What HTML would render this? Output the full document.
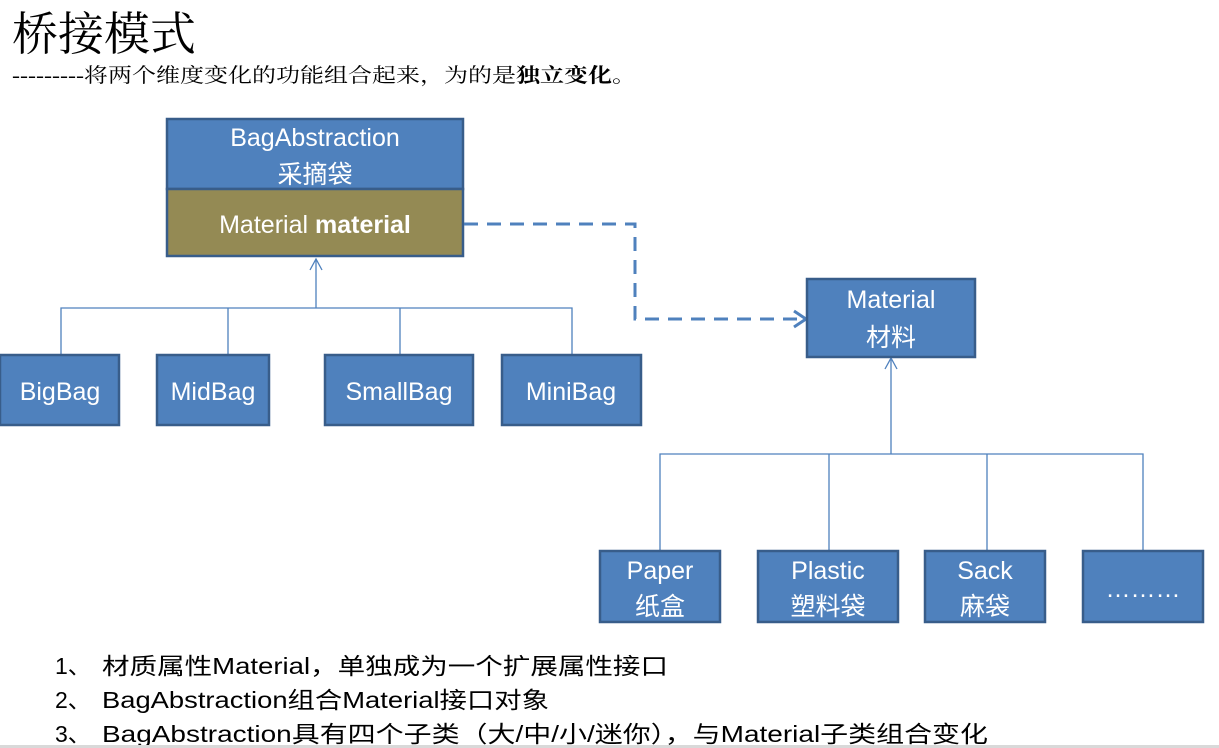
<!DOCTYPE html>
<html><head><meta charset="utf-8"><style>
html,body{margin:0;padding:0;background:#fff;width:1219px;height:748px;overflow:hidden}
svg{display:block}
.b{fill:#4f81bd;stroke:#385d8a;stroke-width:2.5}
.t{fill:#fff;font-family:"Liberation Sans","Noto Sans CJK SC",sans-serif;font-size:25px;text-anchor:middle}
.k{fill:#000;font-family:"Liberation Sans","Noto Sans CJK SC",sans-serif;font-size:23px}
</style></head><body>
<svg width="1219" height="748" viewBox="0 0 1219 748">
<text x="12" y="50" font-family="'Liberation Serif','Noto Serif CJK SC',serif" font-size="46" fill="#000">桥接模式</text>
<text x="12" y="82" font-family="'Liberation Serif','Noto Serif CJK SC',serif" font-size="20" fill="#000" textLength="624" lengthAdjust="spacingAndGlyphs">---------将两个维度变化的功能组合起来，为的是<tspan font-weight="bold">独立变化</tspan>。</text>

<!-- BagAbstraction -->
<rect x="167" y="119" width="296" height="70" class="b"/>
<rect x="167" y="189" width="296" height="67" fill="#948a54" stroke="#385d8a" stroke-width="2.5"/>
<text x="315" y="146" class="t">BagAbstraction</text>
<text x="315" y="183" class="t">采摘袋</text>
<text x="315" y="233" class="t">Material <tspan font-weight="bold">material</tspan></text>

<!-- left tree -->
<g stroke="#4f81bd" stroke-width="1.3" fill="none">
<path d="M61 355V308H572V355M228 308V355M400 308V355M316 308V259"/>
<path d="M310 270L316 259L322 270"/>
<path d="M660 551V454H1143V551M829 454V551M987 454V551M891 454V358"/>
<path d="M885 369L891 358L897 369"/>
</g>
<rect x="0" y="355" width="119" height="70" class="b"/>
<rect x="157" y="355" width="112" height="70" class="b"/>
<rect x="325" y="355" width="148" height="70" class="b"/>
<rect x="502" y="355" width="139" height="70" class="b"/>
<text x="60" y="400" class="t">BigBag</text>
<text x="213" y="400" class="t">MidBag</text>
<text x="399" y="400" class="t">SmallBag</text>
<text x="571" y="400" class="t">MiniBag</text>

<!-- dashed -->
<path d="M464 224H635V319H805" stroke="#4f81bd" stroke-width="3" fill="none" stroke-dasharray="14,9"/>
<path d="M794 311L806 319L794 327" stroke="#4f81bd" stroke-width="3" fill="none"/>

<rect x="807" y="279" width="168" height="78" class="b"/>
<text x="891" y="308" class="t">Material</text>
<text x="891" y="346" class="t">材料</text>

<rect x="600" y="551" width="120" height="71" class="b"/>
<rect x="758" y="551" width="140" height="71" class="b"/>
<rect x="925" y="551" width="120" height="71" class="b"/>
<rect x="1083" y="551" width="120" height="71" class="b"/>
<text x="660" y="579" class="t">Paper</text>
<text x="660" y="615" class="t">纸盒</text>
<text x="828" y="579" class="t">Plastic</text>
<text x="828" y="615" class="t">塑料袋</text>
<text x="985" y="579" class="t">Sack</text>
<text x="985" y="615" class="t">麻袋</text>
<text x="1143" y="597" class="t">………</text>

<text x="55" y="674" class="k">1、</text>
<text x="102" y="674" class="k" textLength="566" lengthAdjust="spacingAndGlyphs">材质属性Material，单独成为一个扩展属性接口</text>
<text x="55" y="708" class="k">2、</text>
<text x="102" y="708" class="k" textLength="447" lengthAdjust="spacingAndGlyphs">BagAbstraction组合Material接口对象</text>
<text x="55" y="742" class="k">3、</text>
<text x="102" y="742" class="k" textLength="886" lengthAdjust="spacingAndGlyphs">BagAbstraction具有四个子类（大/中/小/迷你），与Material子类组合变化</text>
<rect x="0" y="745" width="1219" height="3" fill="#d9d9d9"/>
</svg>
</body></html>
